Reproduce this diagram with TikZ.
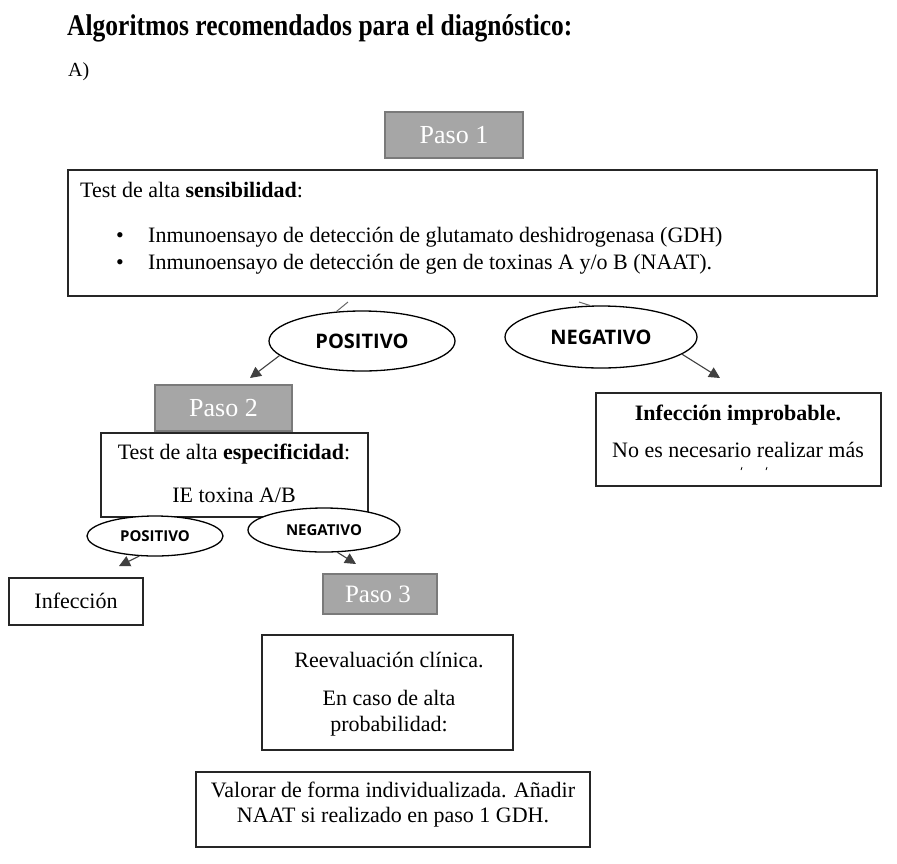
\documentclass[tikz,border=0pt]{standalone}
\usepackage{fontspec}
\setmainfont{Liberation Serif}
\newfontfamily\titlefont{Liberation Serif}[FakeStretch=0.85]
\newfontfamily\lblfont{Open Sans}
\usetikzlibrary{shapes.geometric,arrows.meta}
\definecolor{pasofill}{HTML}{A6A6A6}
\definecolor{pasodraw}{HTML}{7A7A7A}
\tikzset{
  txtbox/.style={draw=black!85, line width=1.4pt, fill=white, inner sep=0pt},
  pasobox/.style={draw=pasodraw, line width=2pt, fill=pasofill, inner sep=0pt},
  pasotxt/.style={anchor=base, text=white, inner sep=0pt, font=\fontsize{26}{30}\selectfont},
  body/.style={inner sep=0pt, font=\fontsize{22}{26}\selectfont},
  bigell/.style={ellipse, draw=black, line width=1.3pt, fill=white, inner sep=0pt, font=\lblfont\bfseries\fontsize{20}{24}\selectfont},
  smallell/.style={ellipse, draw=black, line width=1.3pt, fill=white, inner sep=0pt, font=\lblfont\bfseries\fontsize{15}{18}\selectfont},
  stub/.style={draw=black!60, line width=1pt},
  arr/.style={draw=black!75, line width=1.1pt, -{Triangle[length=11pt,width=11pt]}}
}
\begin{document}
\begin{tikzpicture}[x=1pt, y=-1pt]
\useasboundingbox (0,0) rectangle (897,863);

% title
\node[anchor=base west, inner sep=0pt, font=\titlefont\bfseries\fontsize{30}{34}\selectfont] (title) at (67,35) {Algoritmos recomendados para el diagnóstico:};
\node[anchor=base west, inner sep=0pt, font=\fontsize{20}{24}\selectfont] (lettera) at (68,76) {A)};

% Paso 1
\node[pasobox, minimum width=138pt, minimum height=46pt] (paso1) at (454,135) {};
\node[pasotxt] (paso1t) at (454,143) {Paso 1};

% big box
\node[txtbox, minimum width=809pt, minimum height=126pt] (big) at (472.5,233) {};
\node[body, anchor=base west] (bigt) at (80,197) {Test de alta \textbf{sensibilidad}:};
\node[body, anchor=base] (bul1) at (120,242) {•};
\node[body, anchor=base west] (bigl1) at (148,242) {Inmunoensayo de detección de glutamato deshidrogenasa (GDH)};
\node[body, anchor=base] (bul2) at (120,269) {•};
\node[body, anchor=base west] (bigl2) at (148,269) {Inmunoensayo de detección de gen de toxinas A y/o B (NAAT).};

% first ellipses
\node[bigell, minimum width=186pt, minimum height=60pt] (pos1) at (362,341) {POSITIVO};
\node[bigell, minimum width=192pt, minimum height=62pt] (neg1) at (601,337) {NEGATIVO};
\coordinate (s1) at (348,302);
\coordinate (s2) at (579,302);
\draw[stub] (s1) -- (pos1.131);
\draw[stub] (s2) -- (neg1.109.5);

% Paso 2
\node[pasobox, minimum width=137pt, minimum height=46pt] (paso2) at (223.5,408) {};
\node[pasotxt] (paso2t) at (223.5,416) {Paso 2};
\coordinate (t1) at (250,378);
\draw[arr] (pos1.190) -- (t1);

% Infeccion improbable
\node[txtbox, minimum width=285pt, minimum height=93pt] (impr) at (738.5,439.5) {};
\node[body, anchor=base] (imprt1) at (738,420) {\textbf{Infección improbable.}};
\node[body, anchor=base] (imprt2) at (738,457) {No es necesario realizar más};
\draw[black, line width=0.8pt] (742,467) -- (741,470);
\draw[black, line width=0.8pt] (767,467) -- (766,470);
\coordinate (t2) at (720,378);
\draw[arr] (neg1.-12.5) -- (t2);

% especificidad box
\node[txtbox, minimum width=267pt, minimum height=84pt] (spec) at (234.5,475) {};
\node[body, anchor=base] (spect1) at (234,459) {Test de alta \textbf{especificidad}:};
\node[body, anchor=base] (spect2) at (234,502) {IE toxina A/B};

% second ellipses
\node[smallell, minimum width=136pt, minimum height=40pt] (pos2) at (155,536) {POSITIVO};
\node[smallell, minimum width=152pt, minimum height=44pt] (neg2) at (324,530) {NEGATIVO};

% Infeccion
\node[txtbox, minimum width=134pt, minimum height=47pt] (inf) at (76,601.5) {};
\node[body, anchor=base] (inft) at (76,608) {Infección};
\coordinate (t3) at (119,566);
\draw[arr] (pos2.232.6) -- (t3);

% Paso 3
\node[pasobox, minimum width=114pt, minimum height=40pt] (paso3) at (380,594) {};
\node[pasotxt, font=\fontsize{25}{29}\selectfont] (paso3t) at (378,602) {Paso 3};
\coordinate (t4) at (356,564);
\draw[arr] (neg2.-59) -- (t4);

% Reevaluacion
\node[txtbox, minimum width=251pt, minimum height=115pt] (reev) at (387.5,692.5) {};
\node[body, anchor=base] (reevt1) at (389,667) {Reevaluación clínica.};
\node[body, anchor=base] (reevt2) at (389,705) {En caso de alta};
\node[body, anchor=base] (reevt3) at (389,731) {probabilidad:};

% Valorar
\node[txtbox, minimum width=394pt, minimum height=75pt] (val) at (393,809.5) {};
\node[body, anchor=base] (valt1) at (393,797) {Valorar de forma individualizada. Añadir};
\node[body, anchor=base] (valt2) at (393,822) {NAAT si realizado en paso 1 GDH.};
\end{tikzpicture}
\end{document}
